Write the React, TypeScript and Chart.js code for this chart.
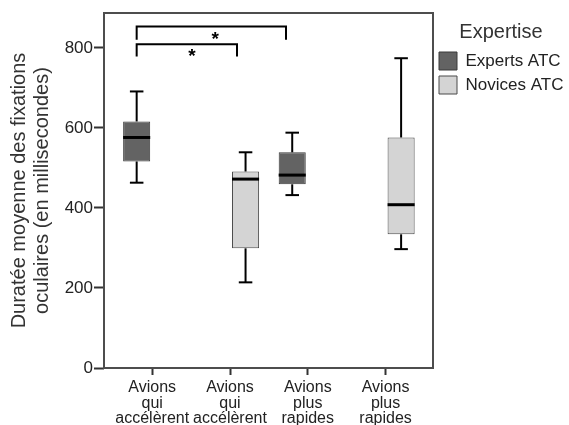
import React, { useEffect, useRef } from 'react';
import { Chart, registerables } from 'chart.js';

Chart.register(...registerables);

// ---- data ----
const categories: string[][] = [
  ['Avions', 'qui', 'accélèrent'],
  ['Avions', 'qui', 'accélèrent'],
  ['Avions', 'plus', 'rapides'],
  ['Avions', 'plus', 'rapides'],
];
const categoryPositions = [1, 2, 3, 4];
const yTicks = [0, 200, 400, 600, 800];
const yTitle = ['Duratée moyenne des fixations', 'oculaires (en millisecondes)'];
const legendTitle = 'Expertise';
const seriesNames = ['Experts ATC', 'Novices ATC'];

const expertsCats = [1, 3];
const expertsMin = [463, 432];
const expertsQ1 = [516, 459];
const expertsMedian = [576, 482];
const expertsQ3 = [616, 539];
const expertsMax = [691, 588];

const novicesCats = [2, 4];
const novicesMin = [214, 297];
const novicesQ1 = [299, 334];
const novicesMedian = [472, 408];
const novicesQ3 = [491, 576];
const novicesMax = [539, 774];

// significance brackets (x in axis units, y in data units)
const bracketFrom = [0.8, 0.8];
const bracketTo = [2.09, 2.72];
const bracketY = [809, 853];
const bracketLegEnd = [778, 820];
const bracketLabelX = [1.51, 1.81];
const bracketLabel = ['*', '*'];

// ---- styling ----
const FONT = "'Liberation Sans', Arial, sans-serif";
const TEXT = '#222222';
const stats = [
  { min: expertsMin, q1: expertsQ1, med: expertsMedian, q3: expertsQ3, max: expertsMax },
  { min: novicesMin, q1: novicesQ1, med: novicesMedian, q3: novicesQ3, max: novicesMax },
];

const boxExtras = {
  id: 'boxExtras',
  afterDatasetsDraw(chart: any) {
    const ctx = chart.ctx as CanvasRenderingContext2D;
    const ys = chart.scales.y;
    const xs = chart.scales.x;
    const line = (x1: number, y1: number, x2: number, y2: number) => {
      ctx.beginPath();
      ctx.moveTo(x1, y1);
      ctx.lineTo(x2, y2);
      ctx.stroke();
    };
    ctx.save();
    ctx.strokeStyle = '#000';
    chart.data.datasets.forEach((_ds: any, di: number) => {
      const meta = chart.getDatasetMeta(di);
      const s = stats[di];
      meta.data.forEach((el: any, i: number) => {
        const { x: cx, width } = el.getProps(['x', 'width'], true);
        const half = width / 2;
        const pMax = ys.getPixelForValue(s.max[i]);
        const pQ3 = ys.getPixelForValue(s.q3[i]);
        const pQ1 = ys.getPixelForValue(s.q1[i]);
        const pMin = ys.getPixelForValue(s.min[i]);
        const pMed = ys.getPixelForValue(s.med[i]);
        ctx.lineWidth = 2;
        line(cx, pQ3, cx, pMax);
        line(cx - half / 2, pMax, cx + half / 2, pMax);
        line(cx, pQ1, cx, pMin);
        line(cx - half / 2, pMin, cx + half / 2, pMin);
        ctx.lineWidth = 3;
        line(cx - half, pMed, cx + half, pMed);
      });
    });
    // brackets
    ctx.lineWidth = 2;
    ctx.strokeStyle = '#000';
    ctx.fillStyle = '#000';
    ctx.font = `bold 19px ${FONT}`;
    ctx.textAlign = 'center';
    ctx.textBaseline = 'alphabetic';
    bracketY.forEach((yv, i) => {
      const x1 = xs.getPixelForValue(bracketFrom[i]);
      const x2 = xs.getPixelForValue(bracketTo[i]);
      const py = ys.getPixelForValue(yv);
      const pl = ys.getPixelForValue(bracketLegEnd[i]);
      ctx.beginPath();
      ctx.moveTo(x1, pl);
      ctx.lineTo(x1, py);
      ctx.lineTo(x2, py);
      ctx.lineTo(x2, pl);
      ctx.stroke();
      ctx.fillText(bracketLabel[i], xs.getPixelForValue(bracketLabelX[i]), py + 18);
    });
    ctx.restore();
  },
  afterDraw(chart: any) {
    const ctx = chart.ctx as CanvasRenderingContext2D;
    const a = chart.chartArea;
    ctx.save();
    ctx.strokeStyle = '#4d4d4d';
    ctx.lineWidth = 2;
    ctx.strokeRect(a.left, a.top, a.right - a.left, a.bottom - a.top);
    ctx.restore();
  },
};

export default function App() {
  const ref = useRef<HTMLCanvasElement>(null);
  useEffect(() => {
    const expertsData = expertsCats.map((c, i) => ({ x: c, y: [expertsQ1[i], expertsQ3[i]] }));
    const novicesData = novicesCats.map((c, i) => ({ x: c, y: [novicesQ1[i], novicesQ3[i]] }));
    const chart = new Chart(ref.current as HTMLCanvasElement, {
      type: 'bar',
      data: {
        datasets: [
          {
            label: seriesNames[0],
            data: expertsData as any,
            backgroundColor: '#636363',
            borderColor: '#3a3a3a',
            borderWidth: 1,
            borderSkipped: false,
            categoryPercentage: 0.8,
            barPercentage: 0.87,
          },
          {
            label: seriesNames[1],
            data: novicesData as any,
            backgroundColor: '#d4d4d4',
            borderColor: '#4a4a4a',
            borderWidth: 1,
            borderSkipped: false,
            categoryPercentage: 0.8,
            barPercentage: 0.87,
          },
        ],
      },
      options: {
        responsive: false,
        animation: false,
        devicePixelRatio: 1,
        events: [],
        layout: { padding: { top: 13, left: 0, right: 0, bottom: 0 } },
        scales: {
          x: {
            type: 'linear',
            offset: false,
            min: 0.38,
            max: 4.61,
            afterBuildTicks: (s: any) => {
              s.ticks = categoryPositions.map((v) => ({ value: v }));
            },
            afterFit: (s: any) => {
              s.height = 57;
            },
            grid: {
              display: true,
              offset: false,
              drawOnChartArea: false,
              drawTicks: true,
              tickLength: 7,
              tickWidth: 2,
              tickColor: '#333',
            },
            border: { display: false },
            ticks: {
              autoSkip: false,
              maxRotation: 0,
              minRotation: 0,
              padding: 5,
              color: TEXT,
              font: { family: FONT, size: 16, lineHeight: 0.97 },
              callback: (_v: any, i: number) => categories[i],
            },
          },
          y: {
            type: 'linear',
            min: 0,
            max: 887,
            afterBuildTicks: (s: any) => {
              s.ticks = yTicks.map((v) => ({ value: v }));
            },
            afterFit: (s: any) => {
              s.width = 104;
            },
            grid: {
              display: true,
              drawOnChartArea: false,
              drawTicks: true,
              tickLength: 10,
              tickWidth: 2,
              tickColor: '#333',
            },
            border: { display: false },
            ticks: {
              padding: 1,
              color: TEXT,
              font: { family: FONT, size: 17 },
              callback: (v: any) => String(v),
            },
            title: {
              display: true,
              text: yTitle,
              color: '#333',
              font: { family: FONT, size: 20, lineHeight: 1.15 },
              padding: { top: 7.5, bottom: 0 },
            },
          },
        },
        plugins: {
          tooltip: { enabled: false },
          legend: {
            display: true,
            position: 'right',
            align: 'start',
            maxWidth: 136,
            title: {
              display: true,
              text: legendTitle,
              color: '#333',
              font: { family: FONT, size: 20 },
              padding: { top: 9, bottom: 0 },
            },
            labels: {
              boxWidth: 18,
              boxHeight: 18,
              padding: 6,
              color: TEXT,
              font: { family: FONT, size: 17 },
            },
          },
        },
      },
      plugins: [boxExtras],
    } as any);
    return () => chart.destroy();
  }, []);
  return (
    <div style={{ position: 'fixed', left: 0, top: 0, width: 569, height: 425, background: '#fff' }}>
      <canvas ref={ref} width={569} height={425} style={{ display: 'block', width: 569, height: 425 }} />
    </div>
  );
}
